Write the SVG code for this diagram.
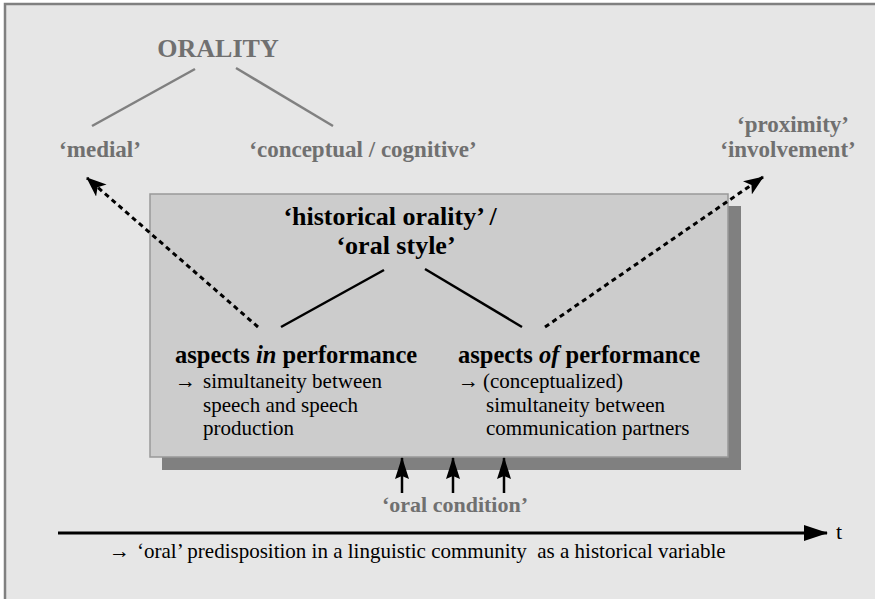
<svg xmlns="http://www.w3.org/2000/svg" width="875" height="599" viewBox="0 0 875 599">
<style>
text{font-family:"Liberation Serif","Times New Roman",serif}
.g{fill:#707070;font-weight:bold;font-size:23px}
.b{fill:#000;font-weight:bold}
.h{font-size:24.5px}
.r{fill:#000;font-size:21px}
.gl{stroke:#808080;stroke-width:2.5;fill:none}
.sl{stroke:#000;stroke-width:2.5;fill:none}
.dl{stroke:#000;stroke-width:3;fill:none;stroke-dasharray:5 4}
.up{stroke:#000;stroke-width:2.5}
</style>
<defs>
<marker id="ah" viewBox="0 0 20 16" refX="19" refY="8" markerWidth="20" markerHeight="16" markerUnits="userSpaceOnUse" orient="auto">
<path d="M0,0 L20,8 L0,16 L5,8 Z" fill="#000"/>
</marker>
<marker id="uh" viewBox="0 0 22 14" refX="21" refY="7" markerWidth="22" markerHeight="14" markerUnits="userSpaceOnUse" orient="auto">
<path d="M0,0 L22,7 L0,14 L3,7 Z" fill="#000"/>
</marker>
<marker id="ta" viewBox="0 0 24 16" refX="23" refY="8" markerWidth="24" markerHeight="16" markerUnits="userSpaceOnUse" orient="auto">
<path d="M0,0 L24,8 L0,16 Z" fill="#000"/>
</marker>
</defs>
<rect x="5" y="4" width="875" height="610" fill="#e6e6e6" stroke="#808080" stroke-width="2.5"/>

<g id="orality">
<text x="218" y="57" text-anchor="middle" class="g" style="font-size:26px">ORALITY</text>
</g>
<g id="medial"><text x="100" y="157" text-anchor="middle" class="g">‘medial’</text></g>
<g id="conceptual"><text x="363" y="157" text-anchor="middle" class="g">‘conceptual / cognitive’</text></g>
<g id="proximity">
<text x="793" y="132" text-anchor="middle" class="g">‘proximity’</text>
<text x="788" y="157" text-anchor="middle" class="g">‘involvement’</text>
</g>

<g id="main-box">
<rect x="162" y="206" width="579" height="264" fill="#808080"/>
<rect x="150" y="194" width="578" height="263" fill="#cccccc" stroke="#999999" stroke-width="1.5"/>
</g>
<g id="historical">
<text x="390" y="225" text-anchor="middle" class="b" style="font-size:26px">‘historical orality’ /</text>
<text x="396" y="254" text-anchor="middle" class="b" style="font-size:26px">‘oral style’</text>
</g>
<g id="aspects-in">
<text x="175" y="363" class="b h">aspects <tspan font-style="italic">in</tspan> performance</text>
<text x="175" y="388" class="r">→<tspan x="203">simultaneity between</tspan></text>
<text x="203" y="412" class="r">speech and speech</text>
<text x="203" y="435" class="r">production</text>
</g>
<g id="aspects-of">
<text x="458" y="363" class="b h">aspects <tspan font-style="italic">of</tspan> performance</text>
<text x="458" y="388" class="r">→<tspan x="483">(conceptualized)</tspan></text>
<text x="486" y="412" class="r">simultaneity between</text>
<text x="486" y="435" class="r">communication partners</text>
</g>
<g id="oral-condition"><text x="455" y="512" text-anchor="middle" class="g" style="font-size:22px">‘oral condition’</text></g>
<g id="timeline-label">
<text x="836" y="539" class="r" style="font-size:22px">t</text>
<text x="109" y="558" class="r" xml:space="preserve">→ <tspan x="137">‘oral’ predisposition in a linguistic community  as a historical variable</tspan></text>
</g>

<g id="connectors">
<line x1="195" y1="69" x2="92" y2="126" class="gl"/>
<line x1="236" y1="68" x2="333" y2="126" class="gl"/>
<line x1="384" y1="270" x2="281" y2="327" class="sl"/>
<line x1="425" y1="269" x2="522" y2="327" class="sl"/>
<line x1="258" y1="327" x2="87" y2="178" class="dl" marker-end="url(#ah)"/>
<line x1="545" y1="327" x2="763" y2="177" class="dl" marker-end="url(#ah)"/>
<line x1="402" y1="493" x2="402" y2="458" class="up" marker-end="url(#uh)"/>
<line x1="453" y1="493" x2="453" y2="458" class="up" marker-end="url(#uh)"/>
<line x1="504" y1="493" x2="504" y2="458" class="up" marker-end="url(#uh)"/>
<line x1="58" y1="533" x2="827" y2="533" stroke="#000" stroke-width="3" marker-end="url(#ta)"/>
</g>
</svg>
